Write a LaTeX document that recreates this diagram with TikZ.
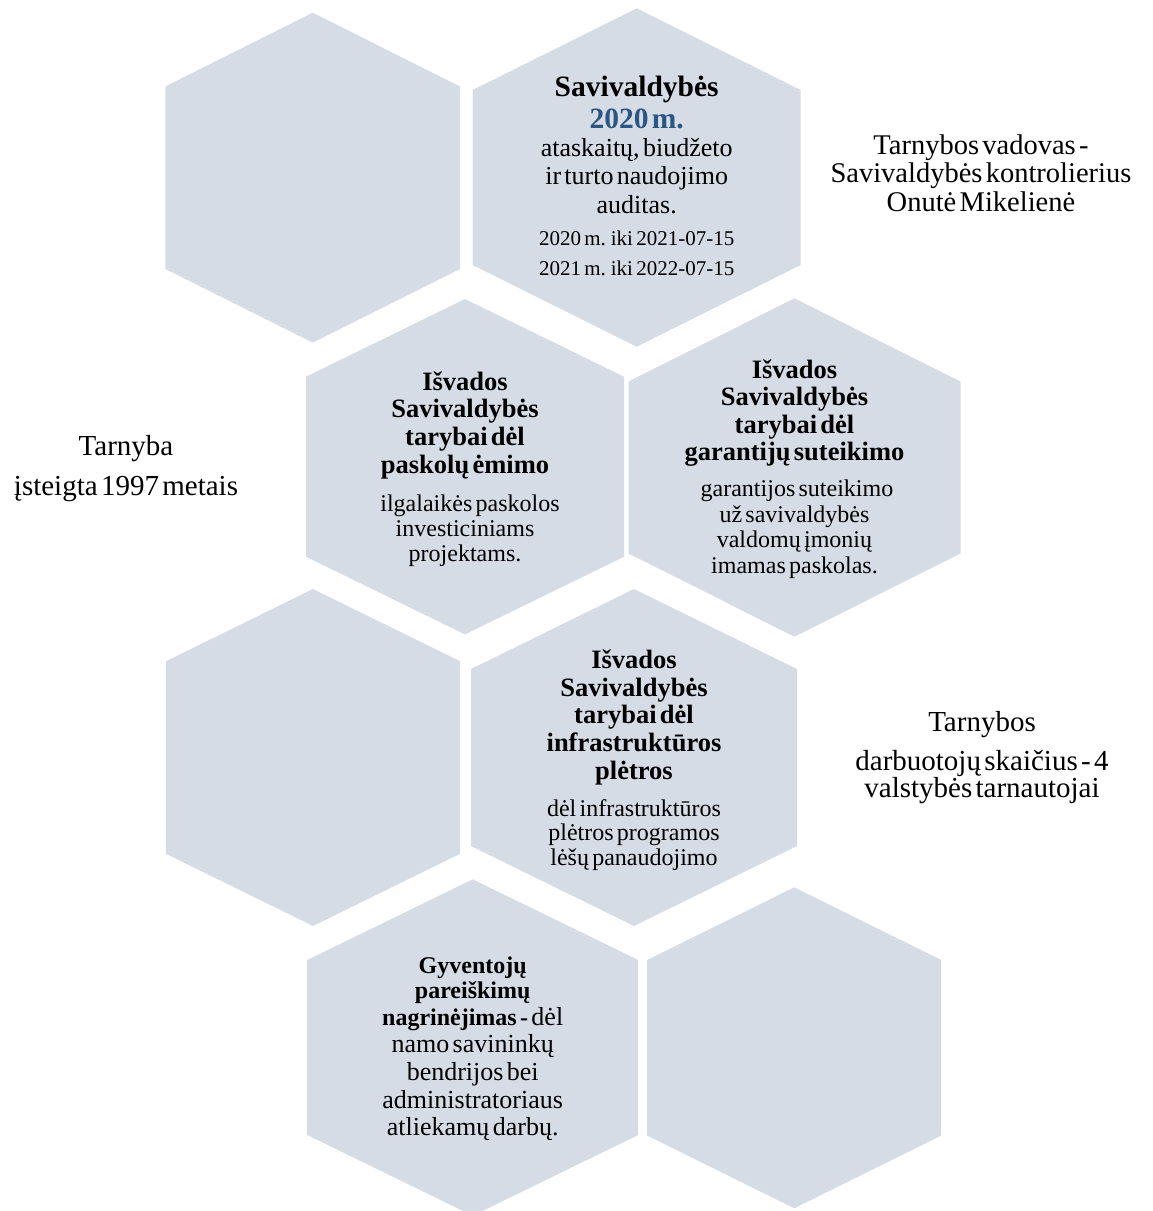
\documentclass[tikz,border=0pt]{standalone}
\usepackage{fontspec}
\setmainfont{Liberation Serif}
\definecolor{hexfill}{HTML}{D6DCE5}
\definecolor{yearblue}{HTML}{2A5783}
\newcommand{\hexcell}[5]{%
  \fill[hexfill] ({#1},{#2-#4}) -- ({#1+#3},{#2-#5}) -- ({#1+#3},{#2+#5})
    -- ({#1},{#2+#4}) -- ({#1-#3},{#2+#5}) -- ({#1-#3},{#2-#5}) -- cycle;}
\newcommand{\fs}[2]{\fontsize{#1}{#2}\selectfont}
\tikzset{blk/.style={inner sep=0pt, anchor=base, align=center, text width=#1},
         blk/.default=320pt}
\begin{document}
\begin{tikzpicture}[x=1pt,y=-1pt]
\useasboundingbox (0,0) rectangle (1153,1211);
% hexagons: cx, cy, half-width, half-height, half-side
\hexcell{312.7}{177.7}{147.3}{165}{91.3}   % A
\hexcell{636.7}{177.5}{164}{169.2}{87.5}   % B
\hexcell{465}{466.7}{159}{167.7}{90}       % C
\hexcell{794.5}{467.5}{166}{169.2}{86}     % D
\hexcell{313}{757.5}{147}{168.5}{96.3}     % E
\hexcell{634}{757.5}{163}{168.5}{88.5}     % F
\hexcell{472.7}{1047.5}{165.5}{168.2}{87.5}% G
\hexcell{794.2}{1047.8}{147}{160.5}{87.8}  % H

% hexagon texts
\node[blk] (tB) at (636.7,96.7) {%
  {\fs{29.5}{31.6}\bfseries Savivaldybės\\\textcolor{yearblue}{2020 m.}\par}%
  {\fs{26}{28.3}ataskaitų, biudžeto\\ ir turto naudojimo\\ auditas.\par}%
  \vspace{2.3pt}%
  {\fs{21}{30}2020 m. iki 2021-07-15\\ 2021 m. iki 2022-07-15\par}};

\node[blk] (tC) at (465,390) {%
  {\fs{26.5}{27.8}\bfseries Išvados\\ Savivaldybės\\ tarybai dėl\\ paskolų ėmimo\par}%
  \vspace{12.3pt}%
  {\fs{24}{25.4}\hspace*{10pt}ilgalaikės paskolos\\ investiciniams\\ projektams.\par}};

\node[blk] (tD) at (794.5,378.3) {%
  {\fs{26.5}{27.5}\bfseries Išvados\\ Savivaldybės\\ tarybai dėl\\ garantijų suteikimo\par}%
  \vspace{10.5pt}%
  {\fs{24}{25.5}\hspace*{5pt}garantijos suteikimo\\ už savivaldybės\\ valdomų įmonių\\ imamas paskolas.\par}};

\node[blk] (tF) at (634,668.3) {%
  {\fs{26.5}{27.75}\bfseries Išvados\\ Savivaldybės\\ tarybai dėl\\ infrastruktūros\\ plėtros\par}%
  \vspace{12.2pt}%
  {\fs{24}{24.5}dėl infrastruktūros\\ plėtros programos\\ lėšų panaudojimo\par}};

\node[blk] (tG) at (472.7,973.3) {%
  {\fs{24}{25}\bfseries Gyventojų\\ pareiškimų\par}%
  \vspace{-1pt}%
  {\fs{26}{27.7}{\fs{24}{24}\bfseries nagrinėjimas -} dėl\\ namo savininkų\\ bendrijos bei\\ administratoriaus\\ atliekamų darbų.\par}};

% side texts
\node[blk=340pt] (tHead) at (981,154.3) {%
  {\fs{28.5}{28.4}Tarnybos vadovas -\\ Savivaldybės kontrolierius\\ Onutė Mikelienė\par}};

\node[blk=250pt] (tFound) at (126,455) {%
  {\fs{29}{40}Tarnyba\\ įsteigta 1997 metais\par}};

\node[blk=330pt] (tStaff) at (982,731) {%
  {\fs{29}{29}Tarnybos\par}%
  \vspace{11.3pt}%
  {\fs{29}{27.7}darbuotojų skaičius - 4\\ valstybės tarnautojai\par}};
\end{tikzpicture}
\end{document}
